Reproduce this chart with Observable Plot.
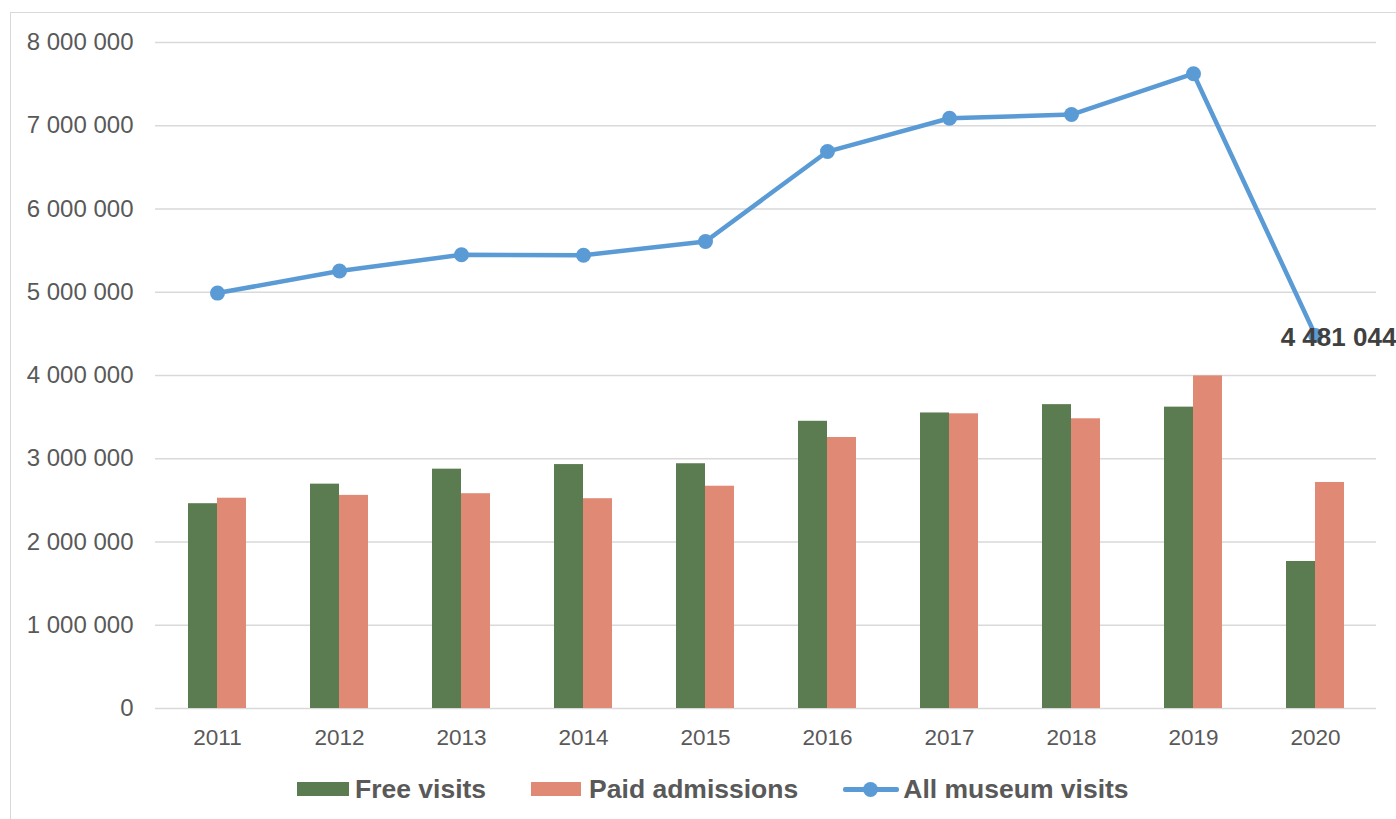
<!DOCTYPE html>
<html>
<head>
<meta charset="utf-8">
<script src="https://cdn.jsdelivr.net/npm/d3@7"></script>
<script src="https://cdn.jsdelivr.net/npm/@observablehq/plot@0.6"></script>
<style>
  html, body { margin: 0; padding: 0; background: #fff; width: 1396px; height: 819px; overflow: hidden; }
  body { position: relative; font-family: "Liberation Sans", Arial, sans-serif; }
  #frame { position: absolute; left: 10px; top: 12px; width: 1500px; height: 900px;
           border-left: 1.5px solid #d9d9d9; border-top: 1.5px solid #d9d9d9; }
  #chart { position: absolute; left: 0; top: 0; }
  #legend { position: absolute; left: 297px; top: 774px; display: flex; align-items: center; gap: 45px;
            font-weight: bold; font-size: 26.5px; color: #595959; line-height: 30px; }
  .item { display: flex; align-items: center; }
  .sw { width: 52px; height: 14px; margin-right: 6px; }
  .lsw { position: relative; width: 56px; height: 16px; margin-right: 4px; }
  .lsw::before { content: ""; position: absolute; left: 0; right: 0; top: 6px; height: 4.5px; background: #5b9bd5; border-radius: 2px; }
  .lsw::after { content: ""; position: absolute; left: 20px; top: 0.5px; width: 15px; height: 15px; border-radius: 50%; background: #5b9bd5; }
</style>
</head>
<body>
<div id="frame"></div>
<div id="chart"></div>
<div id="legend">
  <div class="item"><div class="sw" style="background:#5b7c51"></div><span>Free visits</span></div>
  <div class="item"><div class="sw" style="background:#e08974;width:50px;margin-right:8px"></div><span>Paid admissions</span></div>
  <div class="item"><div class="lsw"></div><span>All museum visits</span></div>
</div>
<script>
const years = ["2011","2012","2013","2014","2015","2016","2017","2018","2019","2020"];
const freeVisits = [2460000, 2695000, 2875000, 2930000, 2940000, 3450000, 3550000, 3650000, 3620000, 1766000];
const paidAdmissions = [2526000, 2560000, 2580000, 2520000, 2670000, 3255000, 3540000, 3480000, 3995000, 2715000];
const allVisits = [4990000, 5255000, 5450000, 5445000, 5610000, 6690000, 7090000, 7135000, 7625000, 4481044];
const yTicks = [0, 1000000, 2000000, 3000000, 4000000, 5000000, 6000000, 7000000, 8000000];

const green = "#5b7c51", salmon = "#e08974", blue = "#5b9bd5";
const fmt = d => d3.format(",")(d).replace(/,/g, " ");

const data = years.map((year, i) => ({year, free: freeVisits[i], paid: paidAdmissions[i], all: allVisits[i]}));
const last = data[data.length - 1];

const chart = Plot.plot({
  width: 1396,
  height: 760,
  marginLeft: 155,
  marginRight: 20,
  marginTop: 42,
  marginBottom: 52,
  style: {background: "transparent", overflow: "visible", fontFamily: "'Liberation Sans', Arial, sans-serif", color: "#595959"},
  x: {domain: years, padding: 0, label: null},
  y: {domain: [0, 8000000], label: null},
  marks: [
    Plot.gridY(yTicks, {stroke: "#d9d9d9", strokeOpacity: 1, strokeWidth: 1.5}),
    Plot.axisY(yTicks, {tickSize: 0, tickPadding: 22, tickFormat: fmt, fontSize: 24, label: null}),
    Plot.axisX({tickSize: 0, tickPadding: 21, fontSize: 22.5, label: null}),
    Plot.barY(data, {x: "year", y: "free", fill: green, insetLeft: 32, insetRight: 61}),
    Plot.barY(data, {x: "year", y: "paid", fill: salmon, insetLeft: 61, insetRight: 32}),
    Plot.line(data, {x: "year", y: "all", stroke: blue, strokeWidth: 4.5, strokeLinejoin: "round"}),
    Plot.dot(data, {x: "year", y: "all", r: 7.5, fill: blue}),
    Plot.text([last], {x: "year", y: "all", text: d => fmt(d.all), dx: 23, dy: 2, fontSize: 26, fontWeight: "bold", fill: "#404040"})
  ]
});
document.getElementById("chart").appendChild(chart);
</script>
</body>
</html>
